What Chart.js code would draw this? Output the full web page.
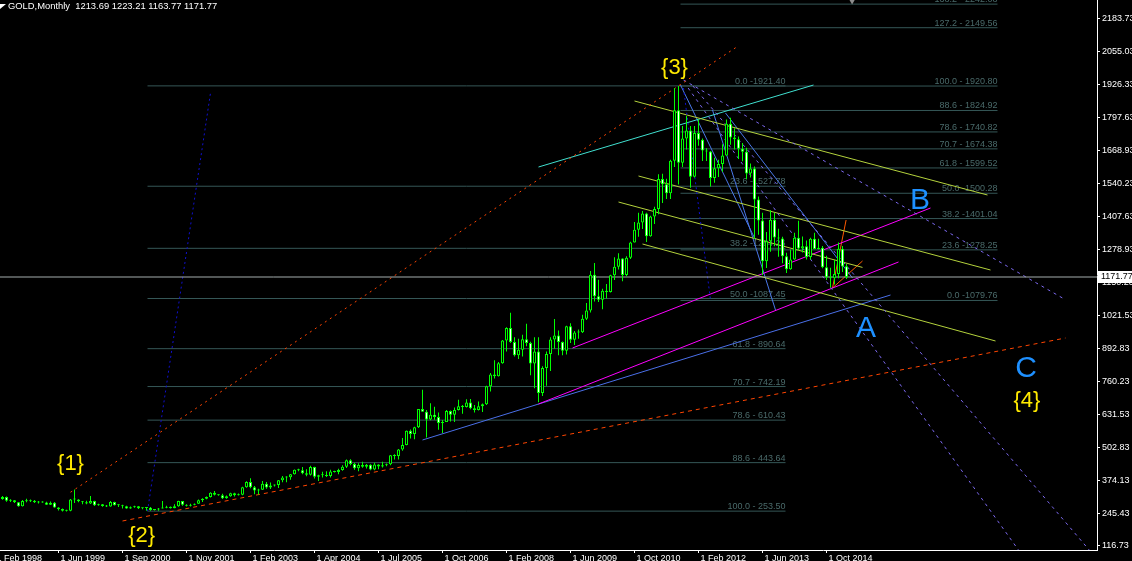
<!DOCTYPE html>
<html>
<head>
<meta charset="utf-8">
<script src="https://cdn.jsdelivr.net/npm/chart.js@4.4.0/dist/chart.umd.min.js"></script>
<style>
html, body { margin: 0; padding: 0; background: #000; }
canvas { display: block; }
</style>
</head>
<body>
<canvas id="goldChart" width="1132" height="561"></canvas>
<script>
// --- GOLD monthly bars (one entry per bar, bar 0 = Apr 1998) ---
const opens = [301,309,294,296,288,273,293,292,294,288,287,287,279,286,268,262,255,255,299,299,
  292,288,283,293,277,280,274,272,289,277,277,273,264,269,273,265,266,267,258,260,
  264,267,271,265,273,293,279,275,279,282,296,302,309,326,318,316,304,312,324,316,
  318,347,368,347,334,337,361,346,354,356,375,385,386,398,416,414,402,396,427,388,
  394,395,391,409,407,415,428,453,438,422,434,428,435,417,436,429,433,437,473,470,
  495,513,569,556,582,654,643,613,632,623,599,603,646,632,650,665,662,680,657,650,
  665,673,743,789,783,834,923,972,917,865,886,928,913,833,880,717,815,870,927,942,
  917,883,979,926,954,955,1008,1040,1181,1096,1083,1118,1113,1179,1212,1244,1180,1247,1307,1357,
  1386,1421,1332,1409,1439,1556,1536,1500,1628,1826,1620,1715,1746,1565,1737,1710,1668,1664,1560,1598,
  1615,1648,1773,1719,1712,1675,1663,1578,1597,1476,1393,1234,1312,1396,1327,1323,1253,1202,1240,1326,
  1284,1292,1250,1322,1282,1287,1210,1171,1167,1184,1283,1213.69];
const highs = [313,311,300,297,289,297,302,299,297,293,292,290,291,289,269,264,259,301,338,300,
  293,294,313,294,282,281,278,293,290,280,279,275,272,275,274,268,268,270,262,266,
  293,275,272,280,294,293,280,282,283,299,304,311,328,332,320,322,315,326,326,323,
  349,371,382,352,341,372,368,366,358,376,391,390,399,417,420,427,418,431,428,396,
  408,410,416,412,420,433,456,457,443,441,447,438,437,443,437,447,440,474,477,497,
  540,570,574,584,654,730,650,677,663,640,611,650,648,660,690,670,692,693,670,683,
  676,745,795,845,838,925,975,1032,935,930,945,988,918,935,935,822,880,935,1007,962,
  919,981,990,960,966,1024,1070,1195,1227,1161,1126,1144,1181,1249,1265,1245,1253,1310,1388,1424,
  1431,1424,1412,1447,1575,1577,1557,1632,1913,1921,1764,1803,1764,1764,1790,1715,1677,1666,1640,1632,
  1692,1790,1796,1755,1723,1697,1679,1617,1605,1488,1424,1348,1434,1424,1361,1330,1267,1280,1345,1392,
  1331,1315,1326,1345,1322,1293,1255,1208,1238,1307,1293,1223.21];
const lows = [298,290,289,285,271,272,288,289,285,283,286,278,278,267,256,252,252,253,285,288,
  280,280,281,274,275,271,270,271,276,270,264,263,263,267,262,261,255,255,256,255,
  264,265,264,265,271,275,272,272,277,281,289,300,307,315,314,301,302,310,311,315,
  316,345,343,320,319,336,341,340,350,344,367,367,377,397,410,398,390,393,381,372,
  385,387,385,405,398,412,423,433,416,410,424,421,414,414,418,425,430,433,456,456,
  490,512,538,535,580,643,542,610,612,573,560,603,605,603,648,635,660,653,640,648,
  642,670,723,774,782,832,880,913,860,850,860,900,786,735,681,705,745,803,890,865,
  865,868,913,905,930,952,1003,1033,1076,1074,1045,1087,1111,1160,1201,1155,1175,1242,1307,1330,
  1360,1309,1330,1380,1418,1462,1478,1478,1603,1535,1603,1672,1522,1562,1687,1627,1627,1527,1541,1564,
  1585,1647,1691,1672,1635,1626,1555,1562,1321,1338,1180,1207,1271,1292,1251,1226,1187,1200,1239,1277,
  1268,1240,1240,1281,1280,1206,1160,1131,1142,1167,1191,1163.77];
const closes = [309,294,296,288,273,293,292,294,288,287,287,279,286,268,262,255,255,299,299,292,
  288,283,293,277,280,274,272,289,277,277,273,264,269,273,265,266,267,258,260,264,
  267,271,265,273,293,279,275,279,282,296,302,309,326,318,316,304,312,324,316,318,
  347,368,347,334,337,361,346,354,356,375,385,386,398,416,414,402,396,427,388,394,
  395,391,409,407,415,428,453,438,422,434,428,435,417,436,429,433,437,473,470,495,
  513,569,556,582,654,643,613,632,623,599,603,646,632,650,665,662,680,657,650,665,
  673,743,789,783,834,923,972,917,865,886,928,913,833,880,717,815,870,927,942,917,
  883,979,926,954,955,1008,1040,1181,1096,1083,1118,1113,1179,1212,1244,1180,1247,1307,1357,1386,
  1421,1332,1409,1439,1556,1536,1500,1628,1826,1620,1715,1746,1565,1737,1710,1668,1664,1560,1598,1615,
  1648,1773,1719,1712,1675,1663,1578,1597,1476,1393,1234,1312,1396,1327,1323,1253,1202,1240,1326,1284,
  1292,1250,1322,1282,1287,1210,1171,1167,1184,1283,1213,1171.77];

// time axis labels (bar position -> text)
const dateLabelBars = [-2, 14, 30, 46, 62, 78, 94, 110, 126, 142, 158, 174, 190, 206];
const dateLabels = ['1 Feb 1998', '1 Jun 1999', '1 Sep 2000', '1 Nov 2001', '1 Feb 2003', '1 Apr 2004',
  '1 Jul 2005', '1 Oct 2006', '1 Feb 2008', '1 Jun 2009', '1 Oct 2010', '1 Feb 2012', '1 Jun 2013', '1 Oct 2014'];

// price axis labels
const priceTicks = [2183.73, 2055.03, 1926.33, 1797.63, 1668.93, 1540.23, 1407.63, 1278.93, 1150.23,
  1021.53, 892.83, 760.23, 631.53, 502.83, 374.13, 245.43, 116.73];

// fibo retracement from the {2} low to the {3} top
const fibABars = [36.25, 195.75];
const fibAPrices = [1921.40, 1527.78, 1284.26, 1087.45, 890.64, 742.19, 610.43, 443.64, 253.50];
const fibATexts = ['0.0 -1921.40', '23.6 -1527.78', '38.2 -1284.26', '50.0 -1087.45', '61.8 - 890.64',
  '70.7 - 742.19', '78.6 - 610.43', '88.6 - 443.64', '100.0 - 253.50'];

// fibo from the top down to the 2013 low
const fibBBars = [169.5, 248.75];
const fibBPrices = [2242.08, 2149.56, 1920.80, 1824.92, 1740.82, 1674.38, 1599.52, 1500.28, 1401.04, 1278.25, 1079.76];
const fibBTexts = ['138.2 - 2242.08', '127.2 - 2149.56', '100.0 - 1920.80', '88.6 - 1824.92', '78.6 - 1740.82',
  '70.7 - 1674.38', '61.8 - 1599.52', '50.0 -1500.28', '38.2 -1401.04', '23.6 -1278.25', '0.0 -1079.76'];

// trend lines: [bar, price] anchors
const redUpper = [[17, 327.5], [184, 2078.7]];
const redLower = [[30, 214.8], [265.75, 932.5]];
const blueDotLow = [[36.25, 253.5], [52, 1893.5]];
const blueDotTop = [[170.25, 1913], [177, 1081.6]];
const purpleUpper = [[170.25, 1944.4], [265, 1089.4]];
const purpleLower = [[172.6, 1920.9], [275, 40]];
const purpleSteep = [[171.4, 1913.1], [256, 57]];
const yellow1 = [[158, 1862.1], [246.25, 1493.4]];
const yellow2 = [[159, 1567.9], [247, 1199.2]];
const yellow3 = [[154, 1465.9], [215, 1209.4]];
const yellow4 = [[160, 1301.2], [248.25, 920.8]];
const cyanLine = [[134, 1603.2], [202.75, 1924.8]];
const magenta1 = [[142.5, 893.3], [232, 1442.4]];
const magenta2 = [[134, 673.7], [224, 1230.6]];
const blueBase = [[105, 532.5], [222, 1101.2]];
const blueDown1 = [[169.5, 1924.8], [188.25, 1316.9]];
const blueDown2 = [[177.5, 1826.8], [193.25, 1042.3]];
const blueDown3 = [[180.75, 1815], [212.5, 1167.9]];
const orangeFan1 = [[207.5, 1128.6], [210.9, 1395.3]];
const orangeFan2 = [[207.5, 1128.6], [215, 1234.5]];

// wave labels: text, bar, price
const waveTexts = ['{1}', '{2}', '{3}', '{4}', 'A', 'B', 'C'];
const waveBars = [17, 34.8, 168, 256.1, 215.9, 229.4, 255.9];
const wavePrices = [440.3, 155.9, 1991.5, 685.4, 969.8, 1471.8, 812.9];

const lastBid = 1171.77;

// --- helpers ---
function trendSet(points, color, dash) {
    return {
        type: 'line',
        data: points.map(p => ({ x: p[0], y: p[1] })),
        borderColor: color,
        borderWidth: 1,
        borderDash: dash || [],
        pointRadius: 0,
        tension: 0,
        fill: false,
        order: 10
    };
}

function fiboSet(bars, prices, color) {
    const pts = [];
    prices.forEach(p => {
        pts.push({ x: bars[0], y: p }, { x: bars[1], y: p }, { x: bars[1], y: null });
    });
    return { type: 'line', data: pts, borderColor: color, borderWidth: 1, pointRadius: 0, spanGaps: false, order: 12 };
}

const FIB_COLOR = '#355757';
const FIB_TEXT = '#4a6a6a';
const CANDLE = '#00ff00';
const FONT = '"Liberation Sans", Arial, sans-serif';

const wickData = opens.map((o, i) => ({ x: i, y: [lows[i], highs[i]] }));
const bodyData = opens.map((o, i) => ({ x: i, y: [o, closes[i]] }));
const bodyFill = opens.map((o, i) => closes[i] < o ? '#ffffff' : '#000000');

const overlay = {
    id: 'overlay',
    beforeDraw(chart) {
        const ctx = chart.ctx;
        ctx.save();
        ctx.fillStyle = '#000';
        ctx.fillRect(0, 0, chart.width, chart.height);
        ctx.restore();
    },
    beforeDatasetsDraw(chart) {
        const ctx = chart.ctx, xs = chart.scales.x, ys = chart.scales.y;
        ctx.save();
        ctx.font = '9px ' + FONT;
        ctx.fillStyle = FIB_TEXT;
        ctx.textAlign = 'right';
        ctx.textBaseline = 'alphabetic';
        fibAPrices.forEach((p, k) => {
            ctx.fillText(fibATexts[k], xs.getPixelForValue(fibABars[1]), ys.getPixelForValue(p) - 2);
        });
        fibBPrices.forEach((p, k) => {
            ctx.fillText(fibBTexts[k], xs.getPixelForValue(fibBBars[1]), ys.getPixelForValue(p) - 2);
        });
        ctx.restore();
    },
    afterDatasetsDraw(chart) {
        const ctx = chart.ctx, xs = chart.scales.x, ys = chart.scales.y;
        ctx.save();
        ctx.textAlign = 'center';
        ctx.textBaseline = 'middle';
        waveTexts.forEach((t, k) => {
            const isLetter = t.length === 1;
            ctx.font = (isLetter ? '30px ' : '22px ') + FONT;
            ctx.fillStyle = isLetter ? '#1e90ff' : '#ffea00';
            ctx.fillText(t, xs.getPixelForValue(waveBars[k]), ys.getPixelForValue(wavePrices[k]));
        });
        // title
        ctx.fillStyle = '#ffffff';
        ctx.beginPath();
        ctx.moveTo(0, 4); ctx.lineTo(6, 4); ctx.lineTo(0, 9); ctx.closePath();
        ctx.fill();
        ctx.font = '9.4px ' + FONT;
        ctx.textAlign = 'left';
        ctx.textBaseline = 'top';
        ctx.fillText('GOLD,Monthly  1213.69 1223.21 1163.77 1171.77', 8, 2);
        ctx.restore();
    },
    afterDraw(chart) {
        const ctx = chart.ctx, ys = chart.scales.y;
        const y = Math.round(ys.getPixelForValue(lastBid));
        ctx.save();
        ctx.fillStyle = '#ffffff';
        ctx.fillRect(1098, y - 6, 34, 12);
        ctx.fillStyle = '#000000';
        ctx.font = '9px ' + FONT;
        ctx.textBaseline = 'middle';
        ctx.textAlign = 'left';
        ctx.fillText(lastBid.toFixed(2), 1101, y);
        ctx.restore();
    }
};

const ctx = document.getElementById('goldChart').getContext('2d');
new Chart(ctx, {
    type: 'bar',
    data: {
        datasets: [
            {
                // candle bodies (on top)
                data: bodyData,
                backgroundColor: bodyFill,
                borderColor: CANDLE,
                borderWidth: 1,
                borderSkipped: false,
                barThickness: 3,
                minBarLength: 1,
                grouped: false,
                inflateAmount: 0,
                order: 0
            },
            {
                data: wickData,
                backgroundColor: CANDLE,
                borderWidth: 0,
                barThickness: 1,
                grouped: false,
                inflateAmount: 0,
                order: 1
            },
            trendSet([[-1, lastBid], [280, lastBid]], '#a4adad'),
            trendSet(redUpper, '#ff4500', [2, 4]),
            trendSet(redLower, '#ff4500', [4, 4]),
            trendSet(blueDotLow, '#1010d0', [2, 3]),
            trendSet(blueDotTop, '#1010d0', [2, 3]),
            trendSet(purpleUpper, '#7b68ee', [3, 4]),
            trendSet(purpleLower, '#7b68ee', [3, 4]),
            trendSet(purpleSteep, '#7b68ee', [3, 4]),
            trendSet(yellow1, '#b4d23c'),
            trendSet(yellow2, '#b4d23c'),
            trendSet(yellow3, '#b4d23c'),
            trendSet(yellow4, '#b4d23c'),
            trendSet(cyanLine, '#40e0d0'),
            trendSet(magenta1, '#ff00ff'),
            trendSet(magenta2, '#ff00ff'),
            trendSet(blueBase, '#4a6fe8'),
            trendSet(blueDown1, '#4a78e8'),
            trendSet(blueDown2, '#4a78e8'),
            trendSet(blueDown3, '#4a78e8'),
            trendSet(orangeFan1, '#ff5a00'),
            trendSet(orangeFan2, '#ff5a00'),
            fiboSet(fibABars, fibAPrices, FIB_COLOR),
            fiboSet(fibBBars, fibBPrices, FIB_COLOR),
            {
                type: 'scatter',
                data: [{ x: 212.4, y: 2252 }],
                pointStyle: 'triangle',
                rotation: 180,
                radius: 3,
                backgroundColor: '#8c8c8c',
                borderWidth: 0,
                order: 5
            }
        ]
    },
    options: {
        responsive: false,
        maintainAspectRatio: false,
        devicePixelRatio: 1,
        animation: false,
        events: [],
        layout: { padding: 0, autoPadding: false },
        plugins: { legend: { display: false }, tooltip: { enabled: false } },
        scales: {
            x: {
                type: 'linear',
                min: -0.625,
                max: 273.625,
                offset: false,
                afterBuildTicks(scale) {
                    scale.ticks = dateLabelBars.map(v => ({ value: v }));
                },
                afterFit(scale) {
                    scale.height = 11;
                    scale.paddingLeft = 0;
                    scale.paddingRight = 0;
                },
                grid: { display: true, offset: false, drawOnChartArea: false, drawTicks: true, tickLength: 3, color: '#ffffff' },
                border: { display: true, color: '#ffffff', width: 1 },
                ticks: {
                    autoSkip: false,
                    maxRotation: 0,
                    minRotation: 0,
                    align: 'start',
                    labelOffset: 2,
                    padding: 0,
                    color: '#ffffff',
                    font: { family: FONT, size: 9 },
                    callback(value) {
                        const k = dateLabelBars.indexOf(value);
                        return k >= 0 ? dateLabels[k] : '';
                    }
                }
            },
            y: {
                type: 'linear',
                position: 'right',
                min: 101.04,
                max: 2258.25,
                afterBuildTicks(scale) {
                    scale.ticks = priceTicks.map(v => ({ value: v }));
                },
                afterFit(scale) {
                    scale.width = 35;
                    scale.paddingTop = 0;
                    scale.paddingBottom = 0;
                },
                grid: { display: true, drawOnChartArea: false, drawTicks: true, tickLength: 3, color: '#ffffff' },
                border: { display: true, color: '#ffffff', width: 1 },
                ticks: {
                    autoSkip: false,
                    padding: 2,
                    color: '#ffffff',
                    font: { family: FONT, size: 9 },
                    callback(value) { return value.toFixed(2); }
                }
            }
        }
    },
    plugins: [overlay]
});
</script>
</body>
</html>
